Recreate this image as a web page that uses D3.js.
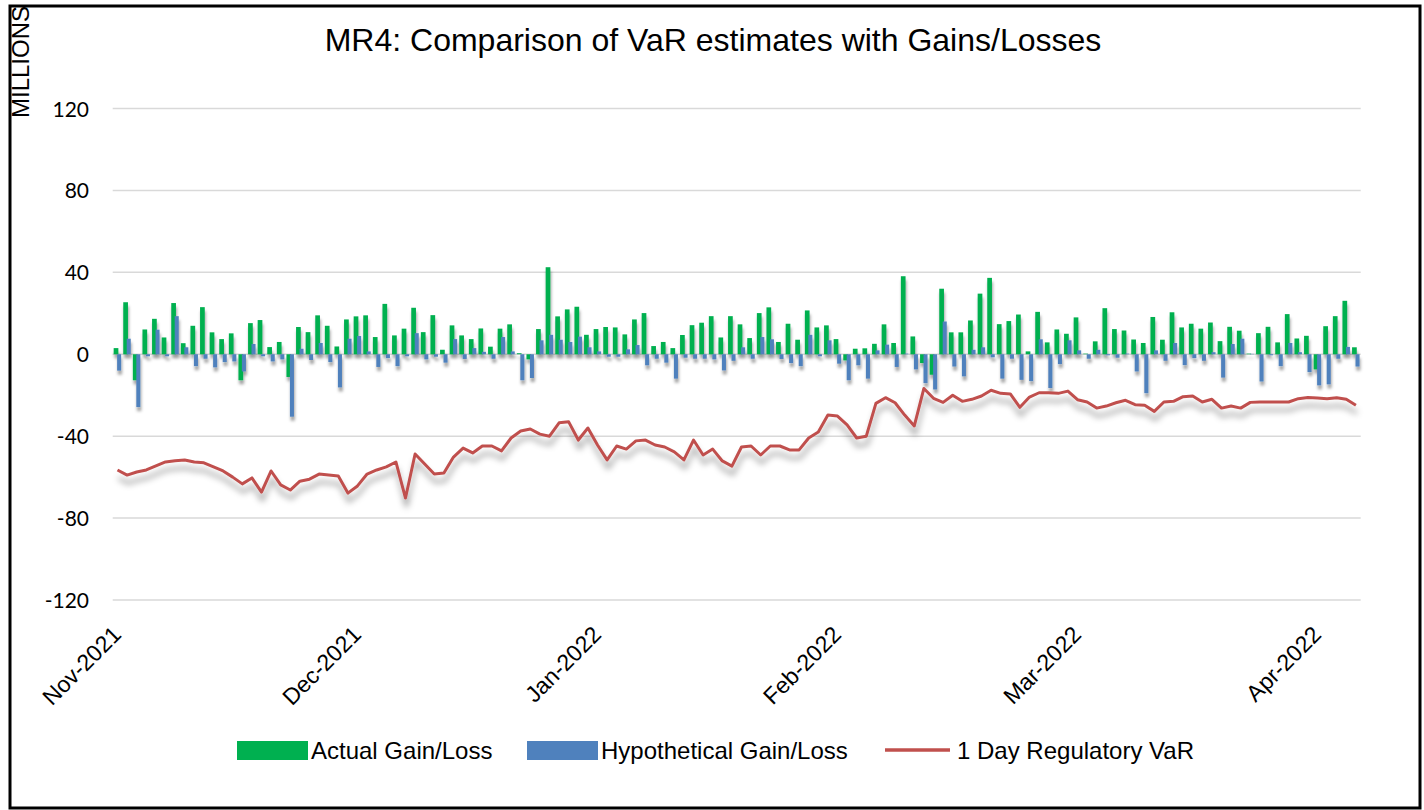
<!doctype html>
<head>
  <style>
    html, body {
      margin: 0;
      padding: 0;
      width: 1424px;
      height: 810px;
      background: white;
    }
    svg text {
      fill: black;
    }
    .title {
      font: 32px "Liberation Sans", Arial, sans-serif;
    }
    .ytick {
      font: 21px Lato, "Noto Sans", sans-serif;
    }
    .xtick {
      font: 23px "Liberation Sans", Arial, sans-serif;
    }
    .legend {
      font: 24px "Liberation Sans", Arial, sans-serif;
    }
    .unit {
      font: 24px "Liberation Sans", Arial, sans-serif;
    }
  </style>
  <script src="https://d3js.org/d3.v7.min.js"></script>
</head>

<body>
  <svg id="chart" width="1424" height="810"></svg>

  <script>
    // business days, Nov-2021 .. Apr-2022; a label every 25 days
    var nDays = 130;
    var monthLabels = ['Nov-2021', 'Dec-2021', 'Jan-2022', 'Feb-2022', 'Mar-2022', 'Apr-2022'];
    var monthIndex = [0, 25, 50, 75, 100, 125];
    var yTicks = [-120, -80, -40, 0, 40, 80, 120];

    var actual = [
      3, 25.4, -12.7, 12.1, 17.3, 8.2, 25, 5.4, 13.9, 23,
      10.7, 7.4, 10.2, -12.7, 15.2, 16.7, 3.5, 6, -11.1, 13.3,
      10.8, 19, 13.9, 3.8, 17, 18.5, 19, 8.4, 24.6, 9.2,
      12.5, 22.7, 10.8, 19.1, 2.2, 14.1, 9.2, 7.4, 12.6, 3.7,
      12.5, 14.6, 0.5, -2.5, 12.3, 42.5, 18.5, 21.9, 23.2, 9.5,
      12.3, 13.3, 13.1, 9.7, 17, 20.1, 4, 6, 3, 9.4,
      14.2, 15.4, 18.6, 8.2, 18.6, 14.6, 7.9, 20.1, 22.9, 6,
      14.9, 7.1, 21.4, 13.1, 14.1, 7.4, -3, 2.7, 2.9, 5.1,
      14.6, 5.5, 38.1, 8.7, -4.3, -10, 32, 10.7, 10.7, 16.5,
      29.6, 37.3, 14.7, 16.2, 19.4, 1.4, 20.7, 5.8, 12.1, 10,
      18, 0.3, 6.3, 22.5, 12.3, 11.6, 7.2, 5.5, 18.2, 7.1,
      20.5, 13.1, 14.9, 12.5, 15.5, 6.4, 13.4, 11.5, 0.3, 10.3,
      13.4, 5.8, 19.6, 7.7, 9, -7.4, 13.7, 18.6, 26.1, 3.4
    ];

    var hypothetical = [
      -8, 7.6, -25.8, -1, 12, -1, 18.6, 3.4, -5.8, -2.2,
      -6.4, -3.8, -3.5, -8.4, 5, -1, -3.5, -2.5, -30.5, 2.7,
      -2.8, 5.5, -3.8, -16.2, 7.6, 8.9, 1.4, -6.2, -1.9, -5.8,
      -1, 10.3, -2.5, -1.2, -4.1, 7.4, -2.3, 3, 1.2, -2.2,
      8.4, 1.4, -12.7, -11.6, 6.8, 9.5, 7.1, 6, 8.6, 3.4,
      1.4, -1.2, -1.2, 2.4, 4.5, -5.4, -2.2, -4.1, -11.9, -1.7,
      -2.2, -2.2, -2.5, -7.9, -3.2, 3.4, -2.2, 8.4, 7.3, -2.3,
      -4.3, -5.8, 9.5, -1, 6.8, -4.6, -12.7, -5.4, -11.9, 1.9,
      4.7, -6.2, 0.3, -7.4, -14.1, -17.2, 16, -6, -10.8, 2.2,
      3.4, -1.5, -11.9, -2.2, -12.5, -13.1, 7.3, -16.5, -4.8, 6.8,
      1.9, -2.2, 2.2, -0.5, -1.7, 0.3, -8.4, -19, 1.9, -3.2,
      5.5, -5.3, -1.9, -3.2, 1, -11.4, 5, 7.6, 0.2, -13.3,
      -0.5, -5.8, 5.5, 1, -8.7, -15.2, -14.7, -2.2, 3.6, -6
    ];

    var regVaR = [
      -56.5, -59, -57.5, -56.5, -54.5, -52.6, -52, -51.6, -52.6, -53,
      -55, -57, -60, -63.3, -60.4, -67.3, -57, -63.8, -66.3, -62,
      -61, -58.5, -59, -59.5, -67.8, -64.3, -58.5, -56.5, -55, -52.6,
      -70.2, -48.7, -53.6, -58.5, -58, -50.2, -45.8, -48.2, -44.8, -44.8,
      -47.2, -40.9, -37.5, -36.5, -39, -40, -33.5, -33, -41.9, -36,
      -44.3, -51.6, -44.8, -46.3, -42.3, -41.9, -44.3, -45.3, -47.7, -51.6,
      -41.9, -49.2, -46.3, -52.1, -54.6, -45.3, -44.8, -49.2, -44.8, -44.8,
      -46.7, -46.7, -40.9, -38, -29.7, -30.2, -34.5, -40.9, -40, -24,
      -21.2, -23.7, -29.7, -35, -16.7, -21.5, -23.5, -20, -23, -22,
      -20.4, -17.6, -19.1, -19.4, -25.9, -20.9, -18.8, -18.8, -19.1, -18,
      -22.2, -23.3, -26.3, -25.3, -23.7, -22.5, -24.6, -24.9, -27.9, -23.3,
      -23, -20.7, -20.4, -23.3, -22, -26.3, -25.3, -26.3, -23.5, -23.3,
      -23.3, -23.3, -23.3, -21.7, -21.1, -21.4, -21.7, -21.2, -22, -24.9
    ];

    var colors = {actual: '#00b050', hypo: '#4f81bd', vaR: '#c0504d'};

    var svg = d3.select('#chart');
    var plot = {left: 112.7, right: 1360.7, top: 108.5, bottom: 600};

    var days = d3.range(nDays);
    var x = d3.scaleBand()
        .domain(days)
        .range([plot.left, plot.right]);
    var y = d3.scaleLinear()
        .domain([-120, 120])
        .range([plot.bottom, plot.top]);

    // shadows
    var defs = svg.append('defs');
    defs.append('filter')
        .attr('id', 'barShadow')
        .attr('x', '-50%').attr('y', '-20%')
        .attr('width', '200%').attr('height', '140%')
      .append('feDropShadow')
        .attr('dx', 0.8).attr('dy', 4)
        .attr('stdDeviation', 1.4)
        .attr('flood-color', '#000')
        .attr('flood-opacity', 0.38);
    defs.append('filter')
        .attr('id', 'lineShadow')
        .attr('x', '-5%').attr('y', '-30%')
        .attr('width', '110%').attr('height', '160%')
      .append('feDropShadow')
        .attr('dx', 1).attr('dy', 8)
        .attr('stdDeviation', 3)
        .attr('flood-color', '#000')
        .attr('flood-opacity', 0.38);

    // frame
    svg.append('rect')
        .attr('x', 10).attr('y', 6)
        .attr('width', 1410).attr('height', 802)
        .attr('fill', 'none')
        .attr('stroke', 'black')
        .attr('stroke-width', 3);

    svg.append('text')
        .attr('class', 'title')
        .attr('x', 713).attr('y', 51)
        .attr('text-anchor', 'middle')
        .text('MR4: Comparison of VaR estimates with Gains/Losses');

    svg.append('text')
        .attr('class', 'unit')
        .attr('transform', 'translate(29,118) rotate(-90)')
        .text('MILLIONS');

    // gridlines + y labels
    svg.append('g')
        .selectAll('line')
        .data(yTicks)
        .enter().append('line')
        .attr('x1', plot.left).attr('x2', plot.right)
        .attr('y1', y).attr('y2', y)
        .attr('stroke', '#d9d9d9')
        .attr('stroke-width', 1.5);

    svg.append('g')
        .selectAll('text')
        .data(yTicks)
        .enter().append('text')
        .attr('class', 'ytick')
        .attr('x', 89)
        .attr('y', function(d) { return y(d) + 8; })
        .attr('text-anchor', 'end')
        .text(function(d) { return d; });

    // bars
    var bw = x.bandwidth();
    var bars = svg.append('g').attr('filter', 'url(#barShadow)');

    bars.selectAll('rect.actual')
        .data(actual)
        .enter().append('rect')
        .attr('class', 'actual')
        .attr('x', function(d, i) { return x(i) + bw * 0.1; })
        .attr('width', bw * 0.49)
        .attr('y', function(d) { return y(Math.max(0, d)); })
        .attr('height', function(d) { return Math.abs(y(d) - y(0)); })
        .attr('fill', colors.actual);

    bars.selectAll('rect.hypo')
        .data(hypothetical)
        .enter().append('rect')
        .attr('class', 'hypo')
        .attr('x', function(d, i) { return x(i) + bw * 0.46; })
        .attr('width', bw * 0.42)
        .attr('y', function(d) { return y(Math.max(0, d)); })
        .attr('height', function(d) { return Math.abs(y(d) - y(0)); })
        .attr('fill', colors.hypo);

    // VaR line
    var line = d3.line()
        .x(function(d, i) { return x(i) + bw / 2; })
        .y(function(d) { return y(d); });

    svg.append('path')
        .datum(regVaR)
        .attr('d', line)
        .attr('fill', 'none')
        .attr('stroke', colors.vaR)
        .attr('stroke-width', 3)
        .attr('stroke-linejoin', 'round')
        .attr('filter', 'url(#lineShadow)');

    // month labels
    svg.append('g')
        .selectAll('text')
        .data(monthIndex)
        .enter().append('text')
        .attr('class', 'xtick')
        .attr('text-anchor', 'end')
        .attr('transform', function(d) {
          return 'translate(' + (x(d) + bw / 2 + 5) + ',636) rotate(-45)';
        })
        .text(function(d, i) { return monthLabels[i]; });

    // legend
    var legend = svg.append('g');
    legend.append('rect')
        .attr('x', 237).attr('y', 741).attr('width', 71).attr('height', 19)
        .attr('fill', colors.actual);
    legend.append('text')
        .attr('class', 'legend')
        .attr('x', 311).attr('y', 759)
        .text('Actual Gain/Loss');
    legend.append('rect')
        .attr('x', 527).attr('y', 741).attr('width', 71).attr('height', 19)
        .attr('fill', colors.hypo);
    legend.append('text')
        .attr('class', 'legend')
        .attr('x', 601).attr('y', 759)
        .text('Hypothetical Gain/Loss');
    legend.append('line')
        .attr('x1', 885).attr('x2', 950)
        .attr('y1', 750).attr('y2', 750)
        .attr('stroke', colors.vaR)
        .attr('stroke-width', 3.5);
    legend.append('text')
        .attr('class', 'legend')
        .attr('x', 957).attr('y', 759)
        .text('1 Day Regulatory VaR');
  </script>
</body>
